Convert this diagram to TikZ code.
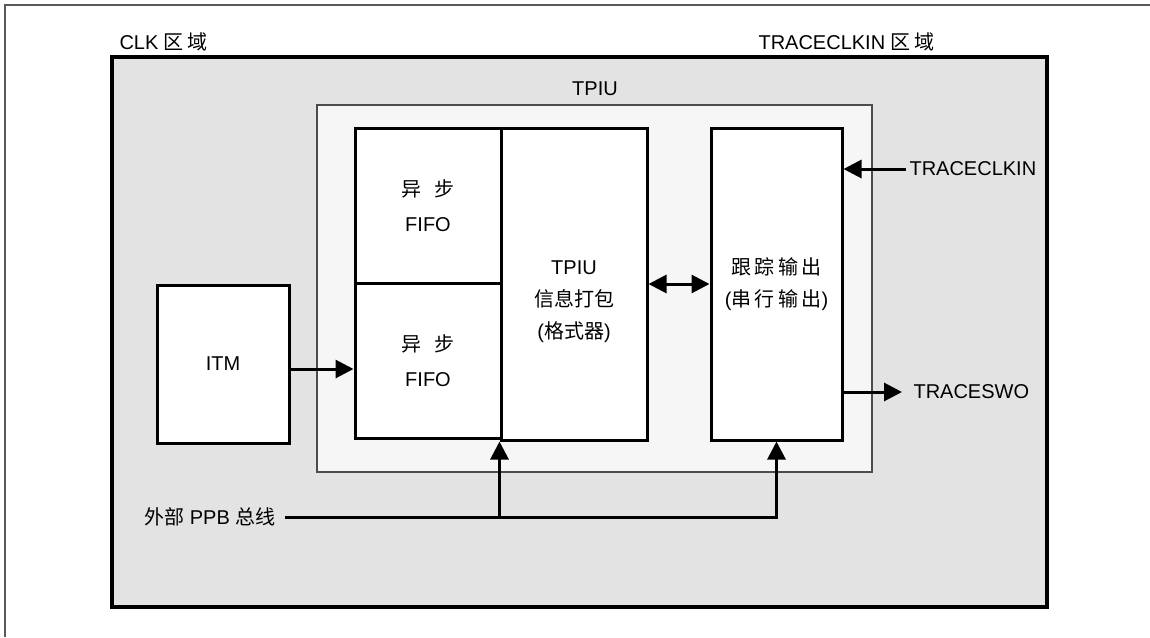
\documentclass[tikz,border=0pt]{standalone}
\usepackage{fontspec}
\setmainfont{Liberation Sans}
\newfontfamily\cjk{Noto Sans CJK SC}
\usetikzlibrary{arrows.meta}

\begin{document}
\begin{tikzpicture}[
    x=1pt, y=-1pt,
    font=\fontsize{20}{32}\selectfont,
    zone/.style={
        draw,
        line width=3.5pt,
        fill=gray!22,
        inner sep=0pt
    },
    region/.style={
        draw=gray!60!black,
        line width=1.3pt,
        fill=gray!7,
        inner sep=0pt
    },
    block/.style={
        draw,
        line width=3pt,
        fill=white,
        inner sep=0pt,
        align=center
    },
    arr/.style={
        line width=3pt,
        -{Triangle[length=18pt,width=18pt]}
    }
]
\useasboundingbox (0,0) rectangle (1150,637);

% Frame
\draw[gray!70!black, line width=1.5pt] (5,637) -- (5,5) -- (1150,5);

% Clock domains
\node[zone, minimum width=935pt, minimum height=550pt] (clkzone) at (579.5,332) {};
\node[anchor=west] (clklbl) at (116,42) {CLK {\cjk 区\,域}};
\node[anchor=west] (tclklbl) at (755,42) {TRACECLKIN {\cjk 区\,域}};

% TPIU
\node[region, minimum width=555pt, minimum height=367pt] (tpiu) at (594.5,288.5) {};
\node (tpiulbl) at (595,89) {TPIU};

% Blocks
\node[block, minimum width=146pt, minimum height=155pt] (fifoA) at (428,205.5)
    {{\cjk 异\hspace{0.7em}步}\\[3pt]FIFO};
\node[block, minimum width=146pt, minimum height=155pt] (fifoB) at (428,360.5)
    {{\cjk 异\hspace{0.7em}步}\\[3pt]FIFO};
\node[block, minimum width=146pt, minimum height=312pt] (fmt) at (574,284) {};
\node[align=center] (fmtlbl) at (574,302) {TPIU\\{\cjk 信息打包}\\({\cjk 格式器})};
\node[block, minimum width=131pt, minimum height=312pt] (trace) at (776.5,284)
    {{\cjk 跟\,踪\,输\,出}\\({\cjk 串\,行\,输\,出})};
\node[block, minimum width=132pt, minimum height=158pt] (itm) at (223,364) {ITM};

% Signals
\node[anchor=west] (clkin) at (906,169) {TRACECLKIN};
\node[anchor=west] (swo) at (910,392) {TRACESWO};
\node[anchor=east] (ppb) at (279,517) {{\cjk 外部} PPB {\cjk 总线}};

% Connections
\draw[arr] (itm.east |- 0,369) -- (fifoB.west |- 0,369);
\draw[arr, {Triangle[length=18pt,width=18pt]}-{Triangle[length=18pt,width=18pt]}] (fmt.east) -- (trace.west);
\draw[arr] (clkin.west) -- (clkin.west -| trace.east);
\draw[arr] (trace.east |- swo) -- ([xshift=-8pt]swo.west);
\draw[arr] ([xshift=6pt]ppb.east) -| (trace.south);
\draw[arr] (fmt.south west |- ppb) -- (fmt.south west);

\end{tikzpicture}
\end{document}
